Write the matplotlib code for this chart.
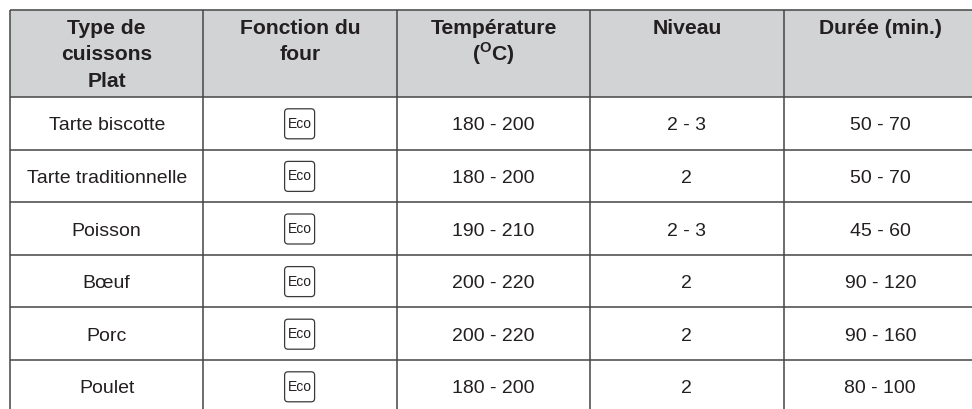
import matplotlib.pyplot as plt
from matplotlib.patches import Rectangle, FancyBboxPatch

plt.rcParams['font.family'] = ['Liberation Sans', 'DejaVu Sans']
plt.rcParams['mathtext.fontset'] = 'custom'
plt.rcParams['mathtext.rm'] = 'Liberation Sans'
plt.rcParams['mathtext.bf'] = 'Liberation Sans:bold'

# données du tableau
headers = ["Type de\ncuissons\nPlat", "Fonction du\nfour", "Température\n(${}^{\\mathbf{O}}$C)",
           "Niveau", "Durée (min.)"]
plats = ["Tarte biscotte", "Tarte traditionnelle", "Poisson", "Bœuf", "Porc", "Poulet"]
fonction = ["Eco", "Eco", "Eco", "Eco", "Eco", "Eco"]
temperature = ["180 - 200", "180 - 200", "190 - 210", "200 - 220", "200 - 220", "180 - 200"]
niveau = ["2 - 3", "2", "2 - 3", "2", "2", "2"]
duree = ["50 - 70", "50 - 70", "45 - 60", "90 - 120", "90 - 160", "80 - 100"]

W, H = 972, 409
fig = plt.figure(figsize=(W / 100, H / 100), dpi=100)
ax = fig.add_axes([0, 0, 1, 1])
ax.set_xlim(0, W)
ax.set_ylim(H, 0)
ax.axis('off')

# géométrie (pixels)
x0, col_w = 10, 193.4
top, head_h, row_h = 9.5, 87.5, 52.6
ncol = len(headers)
xs = [x0 + i * col_w for i in range(ncol + 1)]
body_top = top + head_h
line_c = '#454545'
txt_c = '#231f20'

# fond gris de l'en-tête
ax.add_patch(Rectangle((x0, top), col_w * ncol, head_h, facecolor='#d1d3d4',
                       edgecolor='none', zorder=0))

# lignes horizontales
ys = [top, body_top] + [body_top + (i + 1) * row_h for i in range(len(plats))]
for y in ys:
    ax.plot([x0, xs[-1]], [y, y], color=line_c, lw=1.1, solid_capstyle='butt')
# lignes verticales
for x in xs:
    ax.plot([x, x], [top, H + 5], color=line_c, lw=1.1, solid_capstyle='butt')

# en-tête
for i, h in enumerate(headers):
    cx = (xs[i] + xs[i + 1]) / 2
    for k, line in enumerate(h.split('\n')):
        ax.text(cx, top + 24.5 + k * 26.5, line, ha='center', va='baseline',
                fontsize=15.2, fontweight='bold', color=txt_c)

# corps
columns = [plats, fonction, temperature, niveau, duree]
for r in range(len(plats)):
    cy = body_top + (r + 0.5) * row_h
    for c, col in enumerate(columns):
        cx = (xs[c] + xs[c + 1]) / 2
        if c == 1:
            bw = 30
            ax.add_patch(FancyBboxPatch((cx - 0.5 - bw / 2, cy - bw / 2 + 0.5), bw, bw,
                                        boxstyle='round,pad=0,rounding_size=3.5',
                                        facecolor='white', edgecolor='#3a3a3a', lw=0.9))
            ax.text(cx, cy + 4.5, col[r], ha='center', va='baseline',
                    fontsize=10, color=txt_c)
        else:
            ax.text(cx, cy + 7, col[r], ha='center', va='baseline',
                    fontsize=14, color=txt_c)

fig.savefig('out.png', dpi=100)
